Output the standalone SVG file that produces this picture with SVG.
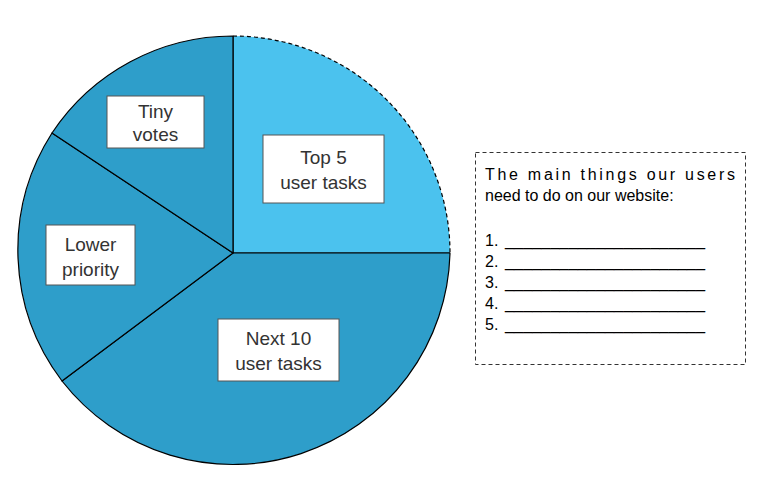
<svg xmlns="http://www.w3.org/2000/svg" width="768" height="497" viewBox="0 0 768 497">
<style>
.s{stroke:#000;stroke-width:1.2;stroke-linejoin:round}
.d{fill:#2E9ECA}
.l{fill:#4BC2EE}
.lb{fill:#fff;stroke:#555;stroke-width:1}
.t{font-family:"Liberation Sans",Arial,sans-serif;font-size:19px;fill:#333;text-anchor:middle}
.n{font-family:"Liberation Sans",Arial,sans-serif;font-size:16px;fill:#000}
</style>
<g id="slice-top5">
<path class="l" d="M233,253 L233,36 A217,217 0 0 1 450,253 Z"/>
<path d="M233,36 A217,217 0 0 1 450,253" fill="none" stroke="#000" stroke-width="1.2" stroke-dasharray="4,3"/>
<path d="M233,36 L233,253 L450,253" fill="none" class="s"/>
</g>
<g id="slice-next10"><path class="d s" d="M233,253 L450,253 A217,217 0 0 1 62,381 Z"/></g>
<g id="slice-lower"><path class="d s" d="M233,253 L62,381 A217,217 0 0 1 52,133 Z"/></g>
<g id="slice-tiny"><path class="d s" d="M233,253 L52,133 A217,217 0 0 1 233,36 Z"/></g>
<g id="label-tiny"><rect class="lb" x="107" y="96" width="97" height="52"/><text class="t" x="155.5" y="118">Tiny</text><text class="t" x="155.5" y="141">votes</text></g>
<g id="label-top5"><rect class="lb" x="263" y="135" width="121" height="68"/><text class="t" x="323.5" y="164">Top 5</text><text class="t" x="323.5" y="189">user tasks</text></g>
<g id="label-lower"><rect class="lb" x="46" y="225" width="89" height="60"/><text class="t" x="90.5" y="251">Lower</text><text class="t" x="90.5" y="276">priority</text></g>
<g id="label-next10"><rect class="lb" x="218" y="319" width="121" height="62"/><text class="t" x="278.5" y="345">Next 10</text><text class="t" x="278.5" y="370">user tasks</text></g>
<g id="notes">
<rect x="475.5" y="152.5" width="270" height="212" fill="#fff" stroke="#333" stroke-width="1" stroke-dasharray="4,3"/>
<text class="n" x="485" y="180" textLength="250" lengthAdjust="spacing">The main things our users</text>
<text class="n" x="485" y="201">need to do on our website:</text>
<text class="n" x="485" y="246">1.</text><text class="n" x="505" y="246" textLength="200" lengthAdjust="spacingAndGlyphs">______________________</text>
<text class="n" x="485" y="267">2.</text><text class="n" x="505" y="267" textLength="200" lengthAdjust="spacingAndGlyphs">______________________</text>
<text class="n" x="485" y="288">3.</text><text class="n" x="505" y="288" textLength="200" lengthAdjust="spacingAndGlyphs">______________________</text>
<text class="n" x="485" y="309">4.</text><text class="n" x="505" y="309" textLength="200" lengthAdjust="spacingAndGlyphs">______________________</text>
<text class="n" x="485" y="330">5.</text><text class="n" x="505" y="330" textLength="200" lengthAdjust="spacingAndGlyphs">______________________</text>
</g>
</svg>
